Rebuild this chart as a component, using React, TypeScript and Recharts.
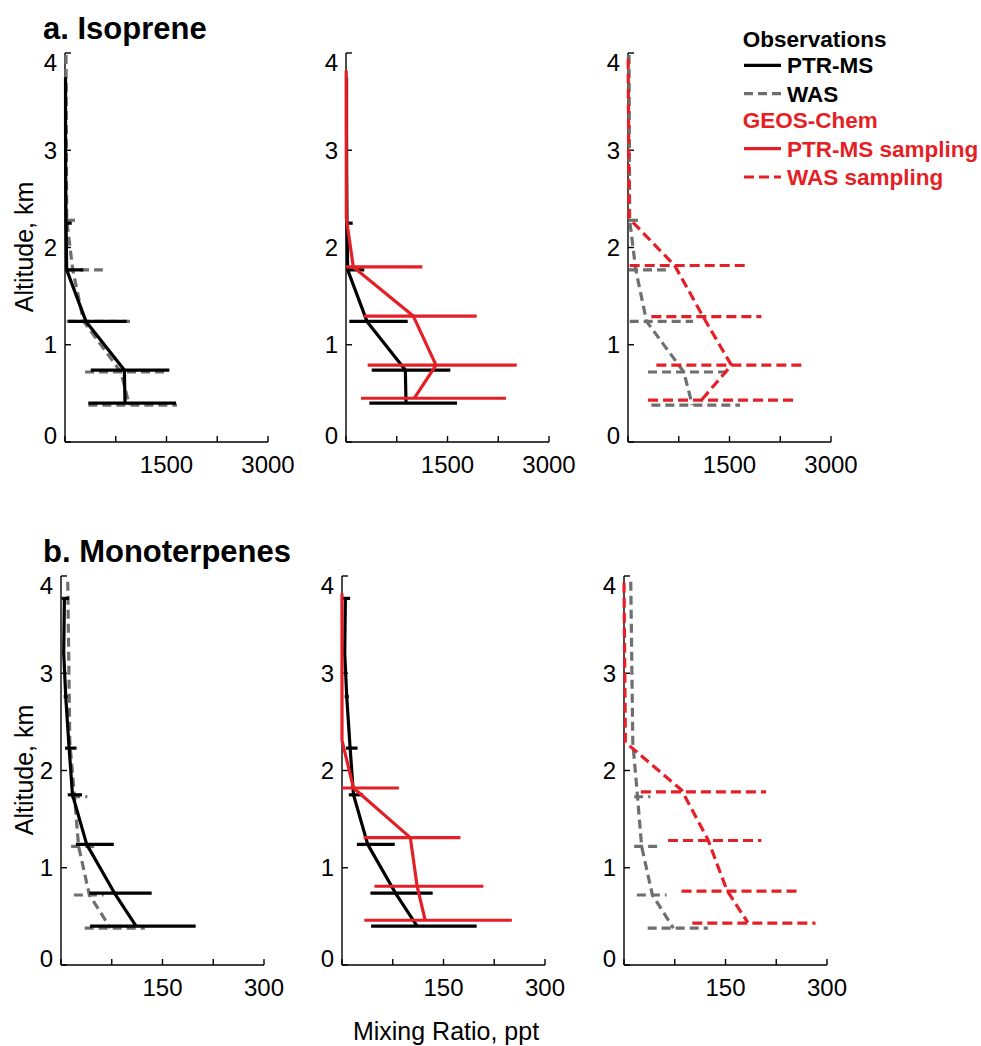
import React from 'react';
import { ScatterChart, Scatter, XAxis, YAxis } from 'recharts';

const FONT = '"Liberation Sans", Arial, Helvetica, sans-serif';
const BLACK = '#000000';
const GRAY = '#6f6f6f';
const RED = '#e41f26';
const DASH = '9 5';

// ---- a. Isoprene (ppt) ----
// observations, PTR-MS
const isoPtrAlt = [3.75, 3.2, 2.75, 2.25, 1.77, 1.24, 0.74, 0.4];
const isoPtrVal = [8, 8, 10, 15, 25, 310, 877, 887];
const isoPtrBarAlt = [2.25, 1.77, 1.24, 0.74, 0.4];
const isoPtrBarLo = [10, 25, 49, 380, 345];
const isoPtrBarHi = [99, 270, 912, 1542, 1641];
// observations, WAS
const isoWasAlt = [3.98, 2.28, 1.77, 1.24, 0.72, 0.38];
const isoWasVal = [15, 25, 115, 275, 825, 950];
const isoWasBarAlt = [2.28, 1.77, 1.24, 0.72, 0.38];
const isoWasBarLo = [15, 15, 25, 296, 345];
const isoWasBarHi = [148, 560, 961, 1530, 1655];
// GEOS-Chem, PTR-MS sampling
const isoGcPtrAlt = [3.82, 2.3, 1.8, 1.295, 0.79, 0.45];
const isoGcPtrVal = [3, 5, 108, 995, 1330, 1010];
const isoGcPtrBarAlt = [1.8, 1.295, 0.79, 0.45];
const isoGcPtrBarLo = [0, 266, 320, 222];
const isoGcPtrBarHi = [1128, 1931, 2523, 2365];
// GEOS-Chem, WAS sampling
const isoGcWasAlt = [3.94, 2.3, 1.815, 1.29, 0.79, 0.43];
const isoGcWasVal = [3, 15, 690, 1109, 1528, 1085];
const isoGcWasBarAlt = [1.815, 1.29, 0.79, 0.43];
const isoGcWasBarLo = [25, 345, 419, 296];
const isoGcWasBarHi = [1750, 1971, 2597, 2479];

// ---- b. Monoterpenes (ppt) ----
const monoPtrAlt = [3.77, 3.21, 2.76, 2.23, 1.75, 1.24, 0.74, 0.4];
const monoPtrVal = [5, 4, 7, 12, 17, 38, 79, 111];
const monoPtrBarAlt = [3.77, 3.21, 2.76, 2.23, 1.75, 1.24, 0.74, 0.4];
const monoPtrBarLo = [1, 2, 4, 6, 10, 22, 42, 43];
const monoPtrBarHi = [12, 6, 10, 23, 31, 78, 134, 199];

const monoWasAlt = [3.94, 2.29, 1.73, 1.22, 0.72, 0.38];
const monoWasVal = [10, 13, 20, 26, 42, 73];
const monoWasBarAlt = [1.73, 1.22, 0.72, 0.38];
const monoWasBarLo = [15, 15, 19, 35];
const monoWasBarHi = [39, 49, 63, 124];

const monoGcPtrAlt = [3.82, 2.31, 1.82, 1.31, 0.81, 0.46];
const monoGcPtrVal = [0, 0, 17, 101, 111, 123];
const monoGcPtrBarAlt = [1.82, 1.31, 0.81, 0.46];
const monoGcPtrBarLo = [0, 32, 48, 33];
const monoGcPtrBarHi = [84, 175, 209, 251];

const monoGcWasAlt = [3.93, 2.29, 1.8, 1.29, 0.77, 0.435];
const monoGcWasVal = [0, 2, 85, 124, 152, 183];
const monoGcWasBarAlt = [1.78, 1.28, 0.76, 0.43];
const monoGcWasBarLo = [25, 65, 85, 101];
const monoGcWasBarHi = [210, 203, 257, 283];

const altTicks = [0, 1, 2, 3, 4];
const isoTicks = [0, 750, 1500, 2250, 3000];
const isoLabels = [1500, 3000];
const monoTicks = [0, 75, 150, 225, 300];
const monoLabels = [150, 300];

type Layer = {
  alt: number[];
  val: number[];
  barAlt: number[];
  lo: number[];
  hi: number[];
  color: string;
  dash?: string;
};

const layer = (
  alt: number[], val: number[], barAlt: number[], lo: number[], hi: number[], color: string, dash?: string
): Layer => ({ alt, val, barAlt, lo, hi, color, dash });

const isoPtr = layer(isoPtrAlt, isoPtrVal, isoPtrBarAlt, isoPtrBarLo, isoPtrBarHi, BLACK);
const isoWas = layer(isoWasAlt, isoWasVal, isoWasBarAlt, isoWasBarLo, isoWasBarHi, GRAY, DASH);
const isoGcPtr = layer(isoGcPtrAlt, isoGcPtrVal, isoGcPtrBarAlt, isoGcPtrBarLo, isoGcPtrBarHi, RED);
const isoGcWas = layer(isoGcWasAlt, isoGcWasVal, isoGcWasBarAlt, isoGcWasBarLo, isoGcWasBarHi, RED, '10 5');
const monoPtr = layer(monoPtrAlt, monoPtrVal, monoPtrBarAlt, monoPtrBarLo, monoPtrBarHi, BLACK);
const monoWas = layer(monoWasAlt, monoWasVal, monoWasBarAlt, monoWasBarLo, monoWasBarHi, GRAY, DASH);
const monoGcPtr = layer(monoGcPtrAlt, monoGcPtrVal, monoGcPtrBarAlt, monoGcPtrBarLo, monoGcPtrBarHi, RED);
const monoGcWas = layer(monoGcWasAlt, monoGcWasVal, monoGcWasBarAlt, monoGcWasBarLo, monoGcWasBarHi, RED, '10 5');

const LW = 3.2;
const NoDot = () => <g />;

// end labels sit a little inside the axis, as in the original figure
const AltTick = (props: any) => {
  const { x, y, payload } = props;
  const v = payload?.value;
  const shift = v === 4 ? 9 : v === 0 ? -7 : 0;
  return (
    <text x={x} y={y + shift} dy="0.355em" textAnchor="end" fontSize={24} fontFamily={FONT} fill={BLACK}>
      {v}
    </text>
  );
};

interface PanelProps {
  left: number;
  top: number;
  xMax: number;
  xTicks: number[];
  xLabels: number[];
  layers: Layer[];
}

const Panel = ({ left, top, xMax, xTicks, xLabels, layers }: PanelProps) => (
  <div style={{ position: 'absolute', left, top }}>
    <ScatterChart width={293} height={454} margin={{ top: 20, right: 40, bottom: 0, left: 0 }}>
      <XAxis
        type="number"
        dataKey="x"
        domain={[0, xMax]}
        ticks={xTicks}
        interval={0}
        tickFormatter={(v: number) => (xLabels.includes(v) ? String(v) : '')}
        height={45}
        tickSize={-6}
        tickMargin={20}
        axisLine={{ stroke: BLACK, strokeWidth: 1.4 }}
        tickLine={{ stroke: BLACK, strokeWidth: 1.4 }}
        tick={{ fontSize: 24, fill: BLACK, fontFamily: FONT }}
      />
      <YAxis
        type="number"
        dataKey="y"
        domain={[0, 4]}
        ticks={altTicks}
        interval={0}
        width={50}
        tickSize={-6}
        tickMargin={14}
        axisLine={{ stroke: BLACK, strokeWidth: 1.4 }}
        tickLine={{ stroke: BLACK, strokeWidth: 1.4 }}
        tick={AltTick}
      />
      {layers.flatMap((l, li) => [
        ...l.barAlt.map((a, i) => (
          <Scatter
            key={`b${li}-${i}`}
            data={[
              { x: l.lo[i], y: a },
              { x: l.hi[i], y: a },
            ]}
            fill={l.color}
            line={{ stroke: l.color, strokeWidth: LW, strokeDasharray: l.dash }}
            shape={NoDot}
            isAnimationActive={false}
          />
        )),
        <Scatter
          key={`p${li}`}
          data={l.alt.map((a, i) => ({ x: l.val[i], y: a }))}
          fill={l.color}
          line={{ stroke: l.color, strokeWidth: LW, strokeDasharray: l.dash, strokeLinejoin: 'round' }}
          shape={NoDot}
          isAnimationActive={false}
        />,
      ])}
    </ScatterChart>
  </div>
);

const legendRows = [
  { label: 'PTR-MS', color: BLACK, textColor: BLACK, dash: undefined as string | undefined, base: 73.3 },
  { label: 'WAS', color: GRAY, textColor: BLACK, dash: DASH, base: 101.7 },
  { label: 'PTR-MS sampling', color: RED, textColor: RED, dash: undefined, base: 156.7 },
  { label: 'WAS sampling', color: RED, textColor: RED, dash: '10 5', base: 185 },
];

export default function App() {
  return (
    <div style={{ position: 'absolute', left: 0, top: 0, width: 981, height: 1046, background: '#fff' }}>
      <Panel left={15} top={33} xMax={3000} xTicks={isoTicks} xLabels={isoLabels} layers={[isoWas, isoPtr]} />
      <Panel left={296} top={33} xMax={3000} xTicks={isoTicks} xLabels={isoLabels} layers={[isoPtr, isoGcPtr]} />
      <Panel left={578} top={33} xMax={3000} xTicks={isoTicks} xLabels={isoLabels} layers={[isoWas, isoGcWas]} />
      <Panel left={11} top={556} xMax={300} xTicks={monoTicks} xLabels={monoLabels} layers={[monoWas, monoPtr]} />
      <Panel left={292} top={556} xMax={300} xTicks={monoTicks} xLabels={monoLabels} layers={[monoPtr, monoGcPtr]} />
      <Panel left={574} top={556} xMax={300} xTicks={monoTicks} xLabels={monoLabels} layers={[monoWas, monoGcWas]} />

      <svg
        width={981}
        height={1046}
        style={{ position: 'absolute', left: 0, top: 0, pointerEvents: 'none' }}
        fontFamily={FONT}
      >
        <text x={43} y={39} fontSize={31} fontWeight="bold" fill={BLACK}>a. Isoprene</text>
        <text x={43} y={562} fontSize={31} fontWeight="bold" fill={BLACK}>b. Monoterpenes</text>
        <text x={33} y={247} fontSize={25} textAnchor="middle" transform="rotate(-90 33 247)" fill={BLACK}>
          Altitude, km
        </text>
        <text x={33} y={770} fontSize={25} textAnchor="middle" transform="rotate(-90 33 770)" fill={BLACK}>
          Altitude, km
        </text>
        <text x={446} y={1040} fontSize={25} textAnchor="middle" fill={BLACK}>Mixing Ratio, ppt</text>

        <text x={742.7} y={46.7} fontSize={22.5} fontWeight="bold" fill={BLACK}>Observations</text>
        <text x={742.7} y={128.3} fontSize={22.5} fontWeight="bold" fill={RED}>GEOS-Chem</text>
        {legendRows.map((r) => (
          <g key={r.label}>
            <line
              x1={744}
              x2={781}
              y1={r.base - 8}
              y2={r.base - 8}
              stroke={r.color}
              strokeWidth={LW}
              strokeDasharray={r.dash}
            />
            <text x={787} y={r.base} fontSize={22.5} fontWeight="bold" fill={r.textColor}>{r.label}</text>
          </g>
        ))}
      </svg>
    </div>
  );
}
